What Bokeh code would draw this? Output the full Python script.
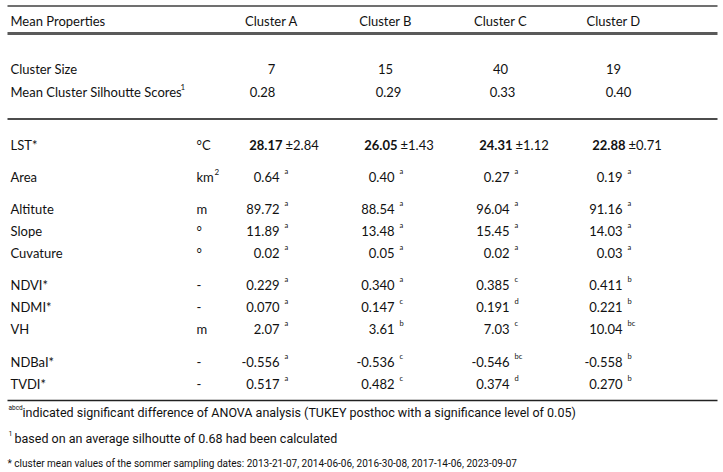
from bokeh.plotting import figure
from bokeh.models import Range1d
from bokeh.core.properties import value
from bokeh.embed import file_html
from bokeh.resources import INLINE

# ---------------- data ----------------
clusters = ["Cluster A", "Cluster B", "Cluster C", "Cluster D"]
cluster_size = [7, 15, 40, 19]
silhouette = [0.28, 0.29, 0.33, 0.40]

lst_mean = [28.17, 26.05, 24.31, 22.88]
lst_sd = [2.84, 1.43, 1.12, 0.71]

properties = ["Area", "Altitute", "Slope", "Cuvature", "NDVI*", "NDMI*", "VH", "NDBaI*", "TVDI*"]
units = ["km", "m", "°", "°", "-", "-", "m", "-", "-"]
decimals = [2, 2, 2, 2, 3, 3, 2, 3, 3]

area = [0.64, 0.40, 0.27, 0.19]
area_sig = ["a", "a", "a", "a"]
altitude = [89.72, 88.54, 96.04, 91.16]
altitude_sig = ["a", "a", "a", "a"]
slope = [11.89, 13.48, 15.45, 14.03]
slope_sig = ["a", "a", "a", "a"]
curvature = [0.02, 0.05, 0.02, 0.03]
curvature_sig = ["a", "a", "a", "a"]
ndvi = [0.229, 0.340, 0.385, 0.411]
ndvi_sig = ["a", "a", "c", "b"]
ndmi = [0.070, 0.147, 0.191, 0.221]
ndmi_sig = ["a", "c", "d", "b"]
vh = [2.07, 3.61, 7.03, 10.04]
vh_sig = ["a", "b", "c", "bc"]
ndbai = [-0.556, -0.536, -0.546, -0.558]
ndbai_sig = ["a", "c", "bc", "b"]
tvdi = [0.517, 0.482, 0.374, 0.270]
tvdi_sig = ["a", "c", "d", "b"]

values = [area, altitude, slope, curvature, ndvi, ndmi, vh, ndbai, tvdi]
sigs = [area_sig, altitude_sig, slope_sig, curvature_sig, ndvi_sig, ndmi_sig,
        vh_sig, ndbai_sig, tvdi_sig]

footnotes = [
    "indicated significant difference of ANOVA analysis (TUKEY posthoc with a significance level of 0.05)",
    "based on an average silhoutte of 0.68 had been calculated",
    "* cluster mean  values of the sommer sampling dates: 2013-21-07, 2014-06-06, 2016-30-08, 2017-14-06, 2023-09-07",
]

# ---------------- layout ----------------
FONT = "Lato"
NOTE_FONT = "Roboto"
COL = "#111111"
head_c = [271, 385, 500, 613]        # header centres
num_r = [279, 394, 509, 622]         # right edge of numbers
row_y = [176, 208, 230, 252, 284, 306, 328, 361, 383]
lst_y = 144

p = figure(width=723, height=472, x_range=Range1d(0, 723), y_range=Range1d(472, 0),
           output_backend="svg", toolbar_location=None, min_border=0)
p.axis.visible = False
p.grid.visible = False
p.outline_line_color = None
p.background_fill_color = "white"
p.border_fill_color = "white"


def txt(xs, ys, texts, size="13px", font=FONT, align="left", style="normal"):
    p.text(x=xs, y=ys, text=texts, text_font=value(font), text_font_size=size,
           text_align=align, text_baseline="middle", text_font_style=style,
           text_color=COL)


# rules
p.segment(x0=[7], y0=[5.5], x1=[717], y1=[5.5], line_color="#404040", line_width=1.5)
p.segment(x0=[7], y0=[33], x1=[717], y1=[33], line_color="#5a5a5a", line_width=3)
p.segment(x0=[7], y0=[118.5], x1=[717], y1=[118.5], line_color="#111111", line_width=1.5)
p.segment(x0=[7], y0=[400], x1=[717], y1=[400], line_color="#222222", line_width=1.5)

# header
txt([10], [20], ["Mean Properties"])
txt(head_c, [20] * 4, clusters, align="center")

# cluster size / silhouette
txt([10], [68], ["Cluster Size"])
txt(head_c, [68] * 4, [str(v) for v in cluster_size], align="center")
txt([10], [91], ["Mean Cluster Silhoutte Scores"])
txt([180], [86], ["1"], size="8px")
txt([262, 388, 502, 618], [91] * 4, ["%.2f" % v for v in silhouette], align="center")

# LST
txt([10], [lst_y], ["LST*"])
txt([196], [lst_y], ["°C"])
txt([r + 3 for r in num_r], [lst_y] * 4, ["%.2f" % v for v in lst_mean], align="right", style="bold")
txt([r + 6 for r in num_r], [lst_y] * 4, ["±%.2f" % v for v in lst_sd])

# properties
for name, unit, dec, vals, sg, y in zip(properties, units, decimals, values, sigs, row_y):
    txt([10], [y], [name])
    txt([196], [y], [unit])
    if unit == "km":
        txt([214], [y - 5], ["2"], size="8px")
    fmt = "%." + str(dec) + "f"
    txt(num_r, [y] * 4, [fmt % v for v in vals], align="right")
    txt([r + 5 for r in num_r], [y - 5] * 4, sg, size="7.5px")

# footnotes
txt([8], [407], ["abcd"], size="6.5px", font=NOTE_FONT)
txt([22], [412], [footnotes[0]], size="12.5px", font=NOTE_FONT)
txt([8], [433], ["1"], size="7px", font=NOTE_FONT)
txt([14], [438], [footnotes[1]], size="12.5px", font=NOTE_FONT)
txt([7], [463], [footnotes[2]], size="10px", font=NOTE_FONT)

open("out.html", "w").write(file_html(p, INLINE))
